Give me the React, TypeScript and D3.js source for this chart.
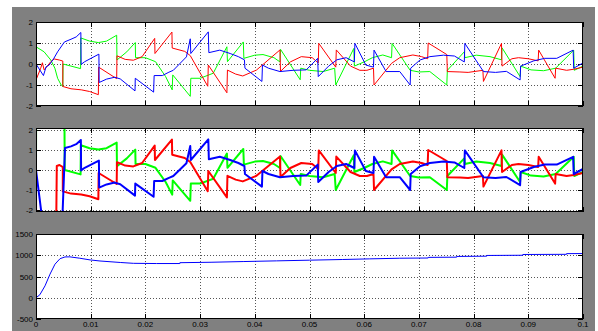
import React from "react";
import * as d3 from "d3";

// time in ms
const xTickValues = [0, 10, 20, 30, 40, 50, 60, 70, 80, 90, 100];
const xTickLabels = ["0", "0.01", "0.02", "0.03", "0.04", "0.05", "0.06", "0.07", "0.08", "0.09", "0.1"];
const currentTicks = [-2, -1, 0, 1, 2];
const currentTickLabels = ["-2", "-1", "0", "1", "2"];
const speedTicks = [-500, 0, 500, 1000, 1500];
const speedTickLabels = ["-500", "0", "500", "1000", "1500"];

const redA: [number, number][] = [
  [0, -0.76], [0.86, -0.2], [1.17, 0.06], [1.48, -0.28], [1.98, -0.13], [2.7, 0.11], [3.33, 0.24], [4.26, 0.19],
  [4.9, 0.14], [4.9, -1.07], [6.4, -1.18], [8.27, -1.23], [9.8, -1.31], [11.4, -1.46], [11.45, -0.15], [14.75, -0.7],
  [14.8, 0.39], [16.3, 0.22], [17.8, 0.18], [19.4, 0.35], [21.7, 1.22], [21.75, 0.5], [24.85, 1.52], [24.9, 0.76],
  [27.2, 0.6], [28.2, 0.4], [29.4, -0.15], [31.4, -1.06], [31.5, -0.05], [34.9, -1.37], [35.0, -0.29], [36.5, -0.48],
  [37.8, -0.57], [40.3, -0.29], [44.6, 0.67], [44.7, -0.35], [46.5, 0.1], [48.5, 0.35], [50.5, 0.3], [51.6, 0.05],
  [51.7, 0.98], [54.8, -0.15], [54.9, 0.67], [57.5, -0.1], [59.2, -0.3], [60.5, -0.3], [61.7, -0.2], [61.8, -1.0],
  [65, 0.03], [66.5, 0.3], [68.9, 0.43], [70.5, 0.35], [71.6, 0.25], [71.7, 1.0], [75.1, 0.45], [75.2, -0.36],
  [77.5, -0.38], [79, -0.4], [81.7, -0.3], [81.8, -0.83], [85.1, 0.98], [85.2, -0.1], [87, 0.25], [88.2, 0.3],
  [90, 0.25], [91.8, 0.15], [91.9, 0.66], [94.9, -0.68], [95, -0.2], [97, -0.3], [98.3, -0.25], [100, -0.15],
];

const blueA: [number, number][] = [
  [0, 0], [1.36, -0.55], [1.85, -0.13], [2.4, -0.05], [3.2, 0.24], [3.95, 0.58], [5.2, 1.05], [6.4, 1.18],
  [7.35, 1.29], [8.2, 1.5], [8.25, -0.02], [8.9, 0.11], [11.5, 0.47], [11.55, -0.88], [12.9, -0.72], [14.4, -0.63],
  [15.4, -0.71], [18.1, -1.28], [18.15, -0.68], [21.5, -1.34], [21.6, -0.55], [23.1, -0.55], [24.3, -0.39],
  [25.1, -0.3], [27.5, 0.34], [28.2, 1.2], [28.3, 0.5], [31.5, 1.53], [31.6, 0.54], [33.6, 0.66], [35.5, 0.5],
  [37, 0.35], [38.1, 0.2], [38.2, -0.2], [41.3, -0.83], [41.4, -0.05], [42.5, -0.2], [44.6, -0.36], [47, -0.3],
  [49.4, -0.28], [51.5, 0.27], [51.6, -0.6], [53.5, -0.1], [55, 0.2], [56.7, 0.3], [58.2, 0.1], [58.3, 0.98],
  [60.3, -0.05], [61.7, -0.15], [61.8, 0.66], [64, -0.36], [66.5, -0.36], [68.4, -1.0], [68.5, -0.2], [70.2, 0.19],
  [72, 0.35], [74.5, 0.42], [76.5, 0.38], [78.3, 0.1], [78.4, 0.98], [81.8, -0.36], [84, -0.4], [86, -0.35],
  [88.5, -0.76], [88.6, -0.1], [91, 0.15], [93, 0.27], [95.2, 0.27], [98.2, 0.66], [98.3, -0.2], [100, 0.05],
];

const greenA: [number, number][] = [
  [0, 0.82], [1.48, 0.58], [2.7, 0.19], [3.45, -0.2], [3.95, -0.68], [4.6, -1.0], [4.9, -1.07], [4.95, 0.0],
  [8.15, -0.22], [8.2, 1.24], [9.8, 1.09], [11.4, 1.02], [12.9, 1.09], [14.75, 1.37], [14.8, 0.19], [16.6, 0.58],
  [18.15, 1.02], [18.2, 0.3], [20, 0.3], [21.85, 0.11], [23.7, -0.6], [24.9, -1.23], [25.0, -0.52], [28.2, -1.54],
  [28.3, -0.68], [30, -0.68], [32.4, -0.44], [34.9, 0.82], [35.0, 0.11], [37.9, 1.05], [38.0, 0.27], [40, 0.42],
  [41.5, 0.45], [43.5, 0.3], [44.6, 0.1], [44.7, 0.7], [48.3, -0.75], [48.4, -0.2], [50, -0.3], [52.5, -0.36],
  [54.6, -0.2], [54.8, -1.0], [58.1, 0.74], [58.2, -0.1], [60, 0.1], [61.5, 0.3], [63.4, 0.43], [65.0, 0.3],
  [65.1, 0.98], [68.4, -0.3], [70, -0.38], [72, -0.36], [75.1, -1.0], [75.2, -0.3], [78.3, 0.58], [78.4, 0.3],
  [80.5, 0.42], [83, 0.35], [85.1, 0.2], [85.2, 0.77], [88.5, -0.6], [88.6, -0.1], [90.5, -0.28], [92.8, -0.32],
  [95, -0.2], [98.3, 0.66], [98.4, -0.3], [100, -0.1],
];

// second scope: different start-up, then same waveforms
const redBStart: [number, number][] = [[0, 0], [0.02, -2.6], [3.7, -2.6], [3.8, 0.2], [4.3, 0.25]];
const blueBStart: [number, number][] = [[0, 0], [1.2, -2.6], [4.8, -2.6], [5.3, 1.1]];
const greenBStart: [number, number][] = [[0, 0], [0.02, 2.6], [5.2, 2.6], [5.25, 0]];

const speed: [number, number][] = [
  [0, 0], [0.7, 70], [1.65, 280], [2.56, 555], [3.47, 790], [4.4, 920], [5.3, 960], [6.2, 962], [8, 930],
  [9.9, 890], [11.7, 865], [15.4, 830], [17.8, 810], [22, 805], [26.3, 805], [26.3, 825], [32, 835], [38, 852],
  [44, 868], [50, 884], [56, 900], [61, 915], [66.5, 930], [71.7, 935], [71.7, 950], [76.9, 955], [76.9, 972],
  [82.4, 978], [82.4, 995], [89, 1000], [89, 1018], [97, 1022], [97, 1038], [100, 1040],
];

const PL = 36;
const PR = 583;
const xScale = d3.scaleLinear().domain([0, 100]).range([PL, PR]);

type Series = { data: [number, number][]; color: string; width: number };

function Panel(props: {
  id: string; top: number; bottom: number; domain: [number, number];
  ticks: number[]; labels: string[]; series: Series[]; showX: boolean;
}) {
  const { id, top, bottom, domain, ticks, labels, series, showX } = props;
  const y = d3.scaleLinear().domain(domain).range([bottom, top]);
  const line = d3.line<[number, number]>().x((d) => xScale(d[0])).y((d) => y(d[1]));
  const grid = "#555";
  return (
    <g>
      <defs>
        <clipPath id={id}>
          <rect x={PL} y={top} width={PR - PL} height={bottom - top} />
        </clipPath>
      </defs>
      <rect x={PL} y={top} width={PR - PL} height={bottom - top} fill="#fff" />
      {ticks.map((t) => {
        const yy = Math.round(y(t)) + 0.5;
        const atEdge = Math.abs(y(t) - top) < 1.5 || Math.abs(y(t) - bottom) < 1.5;
        return (
          <g key={"y" + t}>
            {!atEdge && (
              <line x1={PL} x2={PR} y1={yy} y2={yy} stroke={grid} strokeDasharray="1,2" shapeRendering="crispEdges" />
            )}
            <line x1={PL} x2={PL + 5} y1={yy} y2={yy} stroke="#000" shapeRendering="crispEdges" />
            <line x1={PR - 5} x2={PR} y1={yy} y2={yy} stroke="#000" shapeRendering="crispEdges" />
          </g>
        );
      })}
      {xTickValues.map((t) => {
        const xx = Math.round(xScale(t)) + 0.5;
        const atEdge = t === 0 || t === 100;
        return (
          <g key={"x" + t}>
            {!atEdge && (
              <line x1={xx} x2={xx} y1={top} y2={bottom} stroke={grid} strokeDasharray="1,2" shapeRendering="crispEdges" />
            )}
            <line x1={xx} x2={xx} y1={top} y2={top + 5} stroke="#000" shapeRendering="crispEdges" />
            <line x1={xx} x2={xx} y1={bottom - 5} y2={bottom} stroke="#000" shapeRendering="crispEdges" />
          </g>
        );
      })}
      <g clipPath={`url(#${id})`}>
        {series.map((s, i) => (
          <path key={i} d={line(s.data) || ""} fill="none" stroke={s.color} strokeWidth={s.width} strokeLinejoin="round" />
        ))}
      </g>
      <rect x={PL + 0.5} y={top + 0.5} width={PR - PL - 1} height={bottom - top - 1} fill="none" stroke="#000" shapeRendering="crispEdges" />
      {ticks.map((t, i) => (
        <text key={"l" + t} x={33} y={y(t) + 3} textAnchor="end" fontSize={8} fontFamily="Liberation Sans, Arial, sans-serif" fill="#000">
          {labels[i]}
        </text>
      ))}
      {showX &&
        xTickValues.map((t, i) => (
          <text key={"xl" + t} x={xScale(t)} y={327} textAnchor="middle" fontSize={8} fontFamily="Liberation Sans, Arial, sans-serif" fill="#000">
            {xTickLabels[i]}
          </text>
        ))}
    </g>
  );
}

export default function App() {
  const redB = [...redBStart, ...redA.filter((p) => p[0] >= 4.9)];
  const blueB = [...blueBStart, ...blueA.filter((p) => p[0] > 5.3)];
  const greenB = [...greenBStart, ...greenA.filter((p) => p[0] > 5.0)];
  return (
    <svg width={598} height={331} style={{ position: "absolute", left: 0, top: 0, display: "block" }}>
      <rect x={0} y={0} width={598} height={331} fill="#fff" />
      <rect x={12} y={7} width={583} height={324} fill="#808080" />
      <Panel
        id="c1" top={22} bottom={106} domain={[-2, 2]} ticks={currentTicks} labels={currentTickLabels} showX={false}
        series={[
          { data: greenA, color: "#00ff00", width: 1 },
          { data: redA, color: "#ff0000", width: 1 },
          { data: blueA, color: "#0000ff", width: 1 },
        ]}
      />
      <Panel
        id="c2" top={128} bottom={212} domain={[-2.1, 2.1]} ticks={currentTicks} labels={currentTickLabels} showX={false}
        series={[
          { data: greenB, color: "#00ff00", width: 2 },
          { data: redB, color: "#ff0000", width: 2 },
          { data: blueB, color: "#0000ff", width: 2 },
        ]}
      />
      <Panel
        id="c3" top={234} bottom={319} domain={[-500, 1500]} ticks={speedTicks} labels={speedTickLabels} showX={true}
        series={[{ data: speed, color: "#0000ff", width: 1 }]}
      />
    </svg>
  );
}
